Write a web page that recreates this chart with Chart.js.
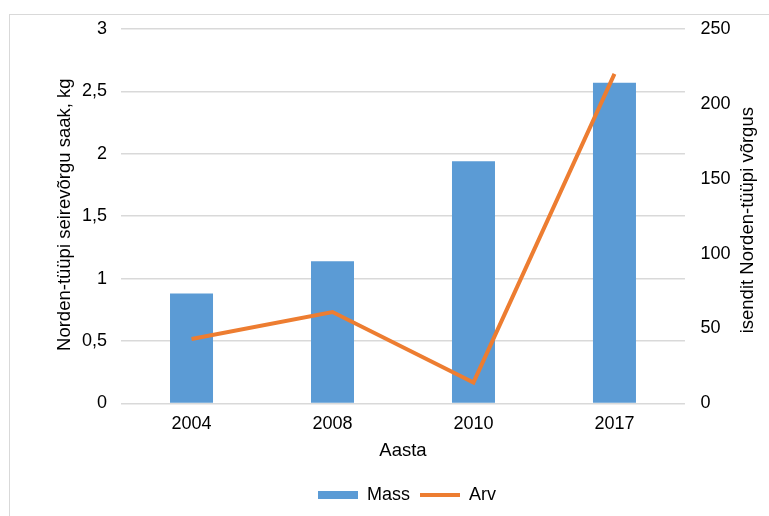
<!DOCTYPE html>
<html>
<head>
<meta charset="utf-8">
<script src="https://cdn.jsdelivr.net/npm/chart.js@4"></script>
<style>
  html, body { margin: 0; padding: 0; background: #fff; overflow: hidden; }
  #wrap { position: relative; width: 769px; height: 516px; }
  #frame { position: absolute; left: 9px; top: 14px; width: 800px; height: 600px; border: 1px solid #d9d9d9; }
  canvas { position: absolute; left: 0; top: 0; }
</style>
</head>
<body>
<div id="wrap">
  <div id="frame"></div>
  <canvas id="chart" width="769" height="516"></canvas>
</div>
<script>
const years = ['2004', '2008', '2010', '2017'];
const mass = [0.88, 1.14, 1.94, 2.57];
const arv = [43, 61, 14, 220];

const FONT = 'Arial, "Liberation Sans", sans-serif';
const xTitle = 'Aasta';
const leftTitle = 'Norden-tüüpi seirevõrgu saak, kg';
const rightTitle = 'isendit Norden-tüüpi võrgus';

// axis titles drawn by hand: both side titles read bottom-to-top like in Excel
const titlesPlugin = {
    id: 'titles',
    afterDraw(chart) {
        const ctx = chart.ctx;
        const area = chart.chartArea;
        const midY = (area.top + area.bottom) / 2;
        ctx.save();
        ctx.font = '18.5px ' + FONT;
        ctx.fillStyle = '#000';
        ctx.textAlign = 'center';
        ctx.textBaseline = 'middle';
        ctx.fillText(xTitle, (area.left + area.right) / 2, 451);

        ctx.save();
        ctx.translate(65, midY - 1.5);
        ctx.rotate(-Math.PI / 2);
        ctx.fillText(leftTitle, 0, 0);
        ctx.restore();

        ctx.save();
        ctx.translate(748, midY + 4);
        ctx.rotate(-Math.PI / 2);
        ctx.fillText(rightTitle, 0, 0);
        ctx.restore();
        ctx.restore();
    }
};

new Chart(document.getElementById('chart'), {
    type: 'bar',
    data: {
        labels: years,
        datasets: [{
            label: 'Mass',
            data: mass,
            backgroundColor: '#5b9bd5',
            borderWidth: 0,
            barPercentage: 0.305,
            categoryPercentage: 1,
            pointStyle: 'rect',
            yAxisID: 'y',
            order: 2,
        }, {
            type: 'line',
            label: 'Arv',
            data: arv,
            borderColor: '#ed7d31',
            backgroundColor: '#ed7d31',
            borderWidth: 4,
            pointRadius: 0,
            pointStyle: 'line',
            tension: 0,
            yAxisID: 'y1',
            order: 1,
        }]
    },
    options: {
        responsive: false,
        animation: false,
        layout: { padding: { left: 68, right: 23, top: 29, bottom: 2 } },
        plugins: {
            tooltip: { enabled: false },
            legend: {
                position: 'bottom',
                labels: {
                    usePointStyle: true,
                    pointStyleWidth: 40,
                    boxHeight: 8,
                    padding: 10,
                    color: '#000',
                    font: { family: FONT, size: 18 },
                    sort: (a, b) => a.datasetIndex - b.datasetIndex,
                }
            }
        },
        scales: {
            x: {
                grid: { display: false, drawTicks: false },
                border: { display: false },
                ticks: { color: '#000', padding: 9.5, font: { family: FONT, size: 18 } },
                // invisible title, only keeps room for the hand-drawn one
                title: {
                    display: true,
                    text: xTitle,
                    color: 'transparent',
                    font: { family: FONT, size: 18.5 },
                    padding: { top: 0, bottom: 9.8 },
                }
            },
            y: {
                position: 'left',
                min: 0,
                max: 3,
                grid: { color: '#d9d9d9', lineWidth: 1.5, drawTicks: false },
                border: { display: false },
                ticks: {
                    stepSize: 0.5,
                    color: '#000',
                    padding: 14,
                    font: { family: FONT, size: 18 },
                    callback: v => String(v).replace('.', ','),
                }
            },
            y1: {
                position: 'right',
                min: 0,
                max: 250,
                grid: { display: false, drawTicks: false },
                border: { display: false },
                ticks: {
                    stepSize: 50,
                    color: '#000',
                    padding: 15.5,
                    font: { family: FONT, size: 18 },
                }
            }
        }
    },
    plugins: [titlesPlugin]
});
</script>
</body>
</html>
